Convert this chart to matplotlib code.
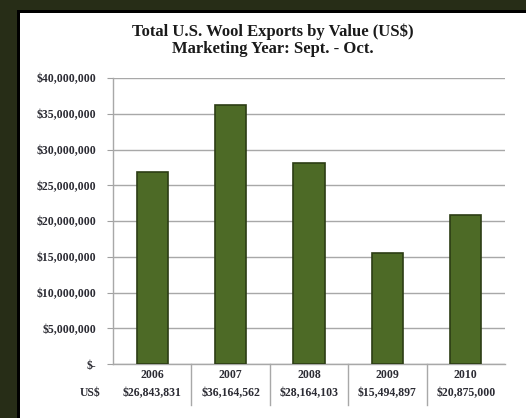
import matplotlib
matplotlib.use('Agg')
import matplotlib.pyplot as plt
from matplotlib.patches import Rectangle
import matplotlib.transforms as mtransforms

# marketing years and export values (US$)
years = ['2006', '2007', '2008', '2009', '2010']
values = [26843831, 36164562, 28164103, 15494897, 20875000]
value_labels = ['$26,843,831', '$36,164,562', '$28,164,103', '$15,494,897', '$20,875,000']
yticks = [0, 5000000, 10000000, 15000000, 20000000, 25000000, 30000000, 35000000, 40000000]
ytick_labels = ['$-', '$5,000,000', '$10,000,000', '$15,000,000', '$20,000,000',
                '$25,000,000', '$30,000,000', '$35,000,000', '$40,000,000']

W, H = 526.0, 418.0
font = 'Liberation Serif'
txt_color = '#2b2b33'
fs = 8.5

fig = plt.figure(figsize=(W / 100, H / 100), dpi=100, facecolor='#272d17')

# white panel with a thin black shadow on the top/left
fig.patches.append(Rectangle((17 / W, 0), 1, (H - 10) / H, transform=fig.transFigure,
                             facecolor='black', edgecolor='none', zorder=-2))
fig.patches.append(Rectangle((20 / W, 0), 1, (H - 13) / H, transform=fig.transFigure,
                             facecolor='white', edgecolor='none', zorder=-1))

ax = fig.add_axes([113 / W, (H - 364) / H, 392 / W, 286 / H])
ax.set_facecolor('none')

x = list(range(len(years)))
ax.bar(x, values, width=0.4, color='#4d6a26', edgecolor='#2c3d14', linewidth=1.2, zorder=3)

ax.set_xlim(-0.5, len(years) - 0.5)
ax.set_ylim(0, 40000000)
ax.set_yticks(yticks)
ax.set_yticklabels(ytick_labels, fontfamily=font, fontweight='bold', fontsize=fs,
                   color=txt_color)
ax.set_xticks([])
ax.tick_params(axis='y', length=4, color='#a0a0a0', pad=8)
ax.yaxis.grid(True, color='#a8a8a8', linewidth=1.0, zorder=0)

for side in ['top', 'right']:
    ax.spines[side].set_visible(False)
for side in ['left', 'bottom']:
    ax.spines[side].set_color('#a8a8a8')
    ax.spines[side].set_linewidth(1.0)

# data table under the bars
trans = mtransforms.blended_transform_factory(ax.transData, ax.transAxes)
for i in range(len(years)):
    ax.text(i, -0.038, years[i], transform=trans, ha='center', va='center',
            fontfamily=font, fontweight='bold', fontsize=fs, color=txt_color)
    ax.text(i, -0.101, value_labels[i], transform=trans, ha='center', va='center',
            fontfamily=font, fontweight='bold', fontsize=fs, color=txt_color)
    if i > 0:
        ax.plot([i - 0.5, i - 0.5], [0, -0.143], transform=trans, color='#a8a8a8',
                linewidth=1.0, clip_on=False)
ax.text(-0.059, -0.101, 'US$', transform=ax.transAxes, ha='center', va='center',
        fontfamily=font, fontweight='bold', fontsize=fs, color=txt_color)

fig.text(273 / W, 1 - 40.5 / H, 'Total U.S. Wool Exports by Value (US$)\nMarketing Year: Sept. - Oct.',
         ha='center', va='center', fontfamily=font, fontweight='bold', fontsize=12,
         color='#1a1a1a', linespacing=1.05)

fig.savefig('out.png', dpi=100, facecolor=fig.get_facecolor())
